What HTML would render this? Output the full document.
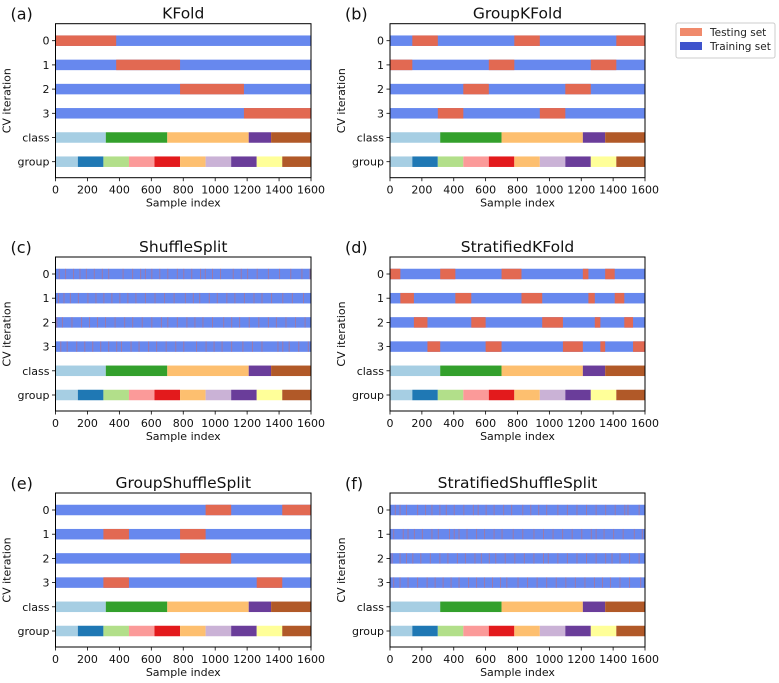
<!DOCTYPE html>
<html><head><meta charset="utf-8"><style>
body{margin:0;background:#fff;}
svg{display:block;font-family:"DejaVu Sans","Liberation Sans",sans-serif;}
</style></head><body>
<svg id="fig" width="779" height="683" viewBox="0 0 779 683" xmlns="http://www.w3.org/2000/svg">
<g id="legend">
<rect x="676" y="23" width="99" height="35" fill="#fff" stroke="#ccc" stroke-width="1" rx="2"/>
<rect x="680" y="28" width="22" height="8" fill="#f08a6c"/>
<text x="710" y="36" font-size="10.5" fill="#222">Testing set</text>
<rect x="680" y="42" width="22" height="8" fill="#3f53cc"/>
<text x="710" y="50" font-size="10.5" fill="#222">Training set</text>
</g>
</svg>
<script>
const rowLabels = ["0","1","2","3","class","group"];
const xTicks = [0,200,400,600,800,1000,1200,1400,1600];
const groupEdges = [0,140,300,460,620,780,940,1100,1260,1420,1600];
const classEdges = [0,315,700,1210,1350,1600];
const groupColors = ["#a6cee3","#1f78b4","#b2df8a","#fb9a99","#e31a1c","#fdbf6f","#cab2d6","#6a3d9a","#ffff99","#b15928"];
const classColors = ["#a6cee3","#33a02c","#fdbf6f","#6a3d9a","#b15928"];
const kfoldTest = [[[0,380]],[[380,780]],[[780,1180]],[[1180,1600]]];
const groupKFoldTest = [[[140,300],[780,940],[1420,1600]],[[0,140],[620,780],[1260,1420]],[[460,620],[1100,1260]],[[300,460],[940,1100]]];
const stratKFoldTest = [
 [[0,65],[315,410],[700,825],[1210,1245],[1350,1410]],
 [[65,150],[410,510],[825,955],[1245,1285],[1410,1470]],
 [[150,235],[510,600],[955,1085],[1285,1320],[1470,1525]],
 [[235,315],[600,700],[1085,1210],[1320,1350],[1525,1600]]];
const groupShuffleTest = [[[940,1100],[1420,1600]],[[300,460],[780,940]],[[780,1100]],[[300,460],[1260,1420]]];
const shuffleIdx = [
 [20,60,110,150,190,240,290,330,420,480,530,560,600,650,700,760,800,850,905,935,980,1030,1110,1160,1200,1260,1330,1400,1470,1540,1590],
 [15,50,90,140,200,250,300,350,400,450,500,560,620,680,740,810,860,900,960,1010,1070,1120,1180,1240,1290,1350,1420,1480,1550],
 [5,40,100,160,210,260,310,370,430,480,540,600,660,700,760,820,870,920,980,1050,1100,1150,1210,1270,1330,1380,1440,1500,1560],
 [30,70,130,180,230,280,330,380,410,470,520,580,630,690,750,800,880,940,990,1040,1100,1170,1230,1290,1390,1420,1460,1520,1580]];
const stratShuffleIdx = [
 [30,60,100,170,220,260,310,350,400,460,520,550,600,650,710,760,830,880,930,980,1050,1110,1170,1230,1290,1350,1410,1470,1490,1560],
 [20,80,110,150,200,260,300,370,400,430,480,540,590,650,700,770,830,900,960,1020,1080,1140,1200,1260,1290,1340,1400,1460,1530,1580],
 [10,60,100,140,190,250,310,360,420,470,530,570,620,660,720,780,840,900,960,990,1050,1110,1170,1230,1290,1350,1390,1440,1500,1560],
 [20,60,110,170,230,280,330,380,430,490,540,590,640,690,730,800,860,920,980,1040,1100,1160,1220,1280,1330,1380,1440,1500,1570]];

const TRAIN="#6788ee", TEST="#e26952";
const NS="http://www.w3.org/2000/svg";
const svg=document.getElementById('fig');
function mk(tag,attrs,parent){const e=document.createElementNS(NS,tag);for(const k in attrs)e.setAttribute(k,attrs[k]);(parent||svg).appendChild(e);return e;}

const panels=[
 {id:"a",title:"KFold",x0:55.5,x1:311,r0:40.7,segs:kfoldTest},
 {id:"b",title:"GroupKFold",x0:390,x1:645,r0:40.7,segs:groupKFoldTest},
 {id:"c",title:"ShuffleSplit",x0:55.5,x1:311,r0:274,idx:shuffleIdx},
 {id:"d",title:"StratifiedKFold",x0:390,x1:645,r0:274,segs:stratKFoldTest},
 {id:"e",title:"GroupShuffleSplit",x0:55.5,x1:311,r0:510,segs:groupShuffleTest},
 {id:"f",title:"StratifiedShuffleSplit",x0:390,x1:645,r0:510,idx:stratShuffleIdx}];
const STEP=24.2, BH=10.5;

panels.forEach(p=>{
 const g=mk('g',{});
 
 
 const xs=v=>p.x0+(v/1600)*(p.x1-p.x0);
 const ys=i=>p.r0+i*STEP;
 const top=p.r0-17, bot=ys(5)+16;
 for(let f=0;f<4;f++){
  const r=mk('rect',{x:xs(0),y:ys(f)-BH/2,width:xs(1600)-xs(0),height:BH,fill:TRAIN},g);
  
  
  if(p.segs){p.segs[f].forEach(s=>{
   const t=mk('rect',{x:xs(s[0]),y:ys(f)-BH/2,width:xs(s[1])-xs(s[0]),height:BH,fill:TEST},g);
   
   
  });}
  if(p.idx){p.idx[f].forEach(v=>{
   const t=mk('rect',{x:xs(v),y:ys(f)-BH/2,width:1,height:BH,fill:TEST,opacity:0.45},g);
   
   
  });}
 }
 for(let c=0;c<classColors.length;c++){
  const r=mk('rect',{x:xs(classEdges[c]),y:ys(4)-BH/2,width:xs(classEdges[c+1])-xs(classEdges[c]),height:BH,fill:classColors[c]},g);
  
  
 }
 for(let c=0;c<groupColors.length;c++){
  const r=mk('rect',{x:xs(groupEdges[c]),y:ys(5)-BH/2,width:xs(groupEdges[c+1])-xs(groupEdges[c]),height:BH,fill:groupColors[c]},g);
  
  
 }
 const fr=mk('rect',{x:p.x0,y:top,width:p.x1-p.x0,height:bot-top,fill:"none",stroke:"#000","stroke-width":1},g);
 
 
 rowLabels.forEach((l,i)=>{
  mk('line',{x1:p.x0-3.5,x2:p.x0,y1:ys(i),y2:ys(i),stroke:"#000","stroke-width":0.8},g);
  const t=mk('text',{x:p.x0-6,y:ys(i)+4,"text-anchor":"end","font-size":11,fill:"#111"},g);
  t.textContent=l;
  
  
 });
 xTicks.forEach(v=>{
  mk('line',{x1:xs(v),x2:xs(v),y1:bot,y2:bot+3.5,stroke:"#000","stroke-width":0.8},g);
  const t=mk('text',{x:xs(v),y:bot+16,"text-anchor":"middle","font-size":11,fill:"#111"},g);
  t.textContent=v;
  
  
 });
 const xl=mk('text',{x:(p.x0+p.x1)/2,y:bot+29,"text-anchor":"middle","font-size":11,fill:"#111"},g);
 xl.textContent="Sample index";
 
 
 const cy=(top+bot)/2, lx=p.x0-45;
 const yl=mk('text',{x:lx,y:cy,"text-anchor":"middle","font-size":11,fill:"#111",transform:`rotate(-90 ${lx} ${cy})`},g);
 yl.textContent="CV iteration";
 
 
 const ti=mk('text',{x:(p.x0+p.x1)/2,y:top-5,"text-anchor":"middle","font-size":15.5,fill:"#111"},g);
 ti.textContent=p.title;
 
 
 const pl=mk('text',{x:p.x0-45,y:top-4,"font-size":16,fill:"#111"},g);
 pl.textContent="("+p.id+")";
 
 
});
</script>
</body></html>
